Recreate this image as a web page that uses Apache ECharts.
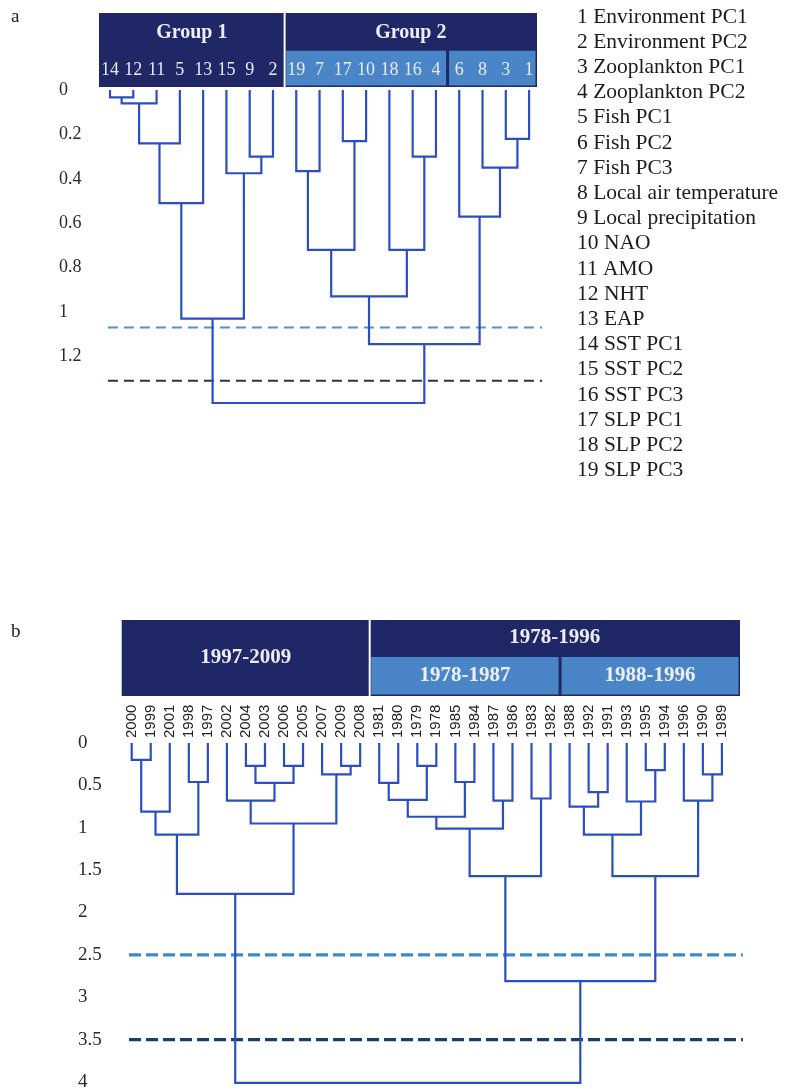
<!DOCTYPE html>
<html><head><meta charset="utf-8">
<script src="https://cdn.jsdelivr.net/npm/echarts@6/dist/echarts.min.js"></script>
<style>html,body{margin:0;padding:0;background:#fff}#c{width:805px;height:1091px}</style>
</head><body><div id="c"></div>
<script>
// ---------------- Panel a data ----------------
const leavesA = ['14','12','11','5','13','15','9','2','19','7','17','10','18','16','4','6','8','3','1'];
// merges: [child, child, height]; 'mK' refers to merge K
const mergesA = [
  ['14','12',0.033], ['m0','11',0.06], ['m1','5',0.24], ['m2','13',0.51],
  ['9','2',0.30], ['15','m4',0.375], ['m3','m5',1.03],
  ['19','7',0.365], ['17','10',0.23], ['m7','m8',0.72],
  ['16','4',0.30], ['18','m10',0.72], ['m9','m11',0.93],
  ['3','1',0.22], ['8','m13',0.35], ['6','m14',0.57],
  ['m12','m15',1.145], ['m6','m16',1.41]
];
const cutoffsA = [1.07, 1.31];
const ticksA = [0, 0.2, 0.4, 0.6, 0.8, 1, 1.2];
const groupsA = [['Group 1', 0, 7], ['Group 2', 8, 18]];
const subGroupsA = [['', 8, 14], ['', 15, 18]];
const variableNames = ['1 Environment PC1','2 Environment PC2','3 Zooplankton PC1','4 Zooplankton PC2',
  '5 Fish PC1','6 Fish PC2','7 Fish PC3','8 Local air temperature','9 Local precipitation','10 NAO',
  '11 AMO','12 NHT','13 EAP','14 SST PC1','15 SST PC2','16 SST PC3','17 SLP PC1','18 SLP PC2','19 SLP PC3'];

// ---------------- Panel b data ----------------
const leavesB = ['2000','1999','2001','1998','1997','2002','2004','2003','2006','2005','2007','2009','2008',
  '1981','1980','1979','1978','1985','1984','1987','1986','1983','1982',
  '1988','1992','1991','1993','1995','1994','1996','1990','1989'];
const mergesB = [
  ['2000','1999',0.2], ['m0','2001',0.81], ['1998','1997',0.46], ['m1','m2',1.08],
  ['2004','2003',0.27], ['2006','2005',0.27], ['m4','m5',0.47], ['2002','m6',0.68],
  ['2009','2008',0.27], ['2007','m8',0.37], ['m7','m9',0.95], ['m3','m10',1.78],
  ['1981','1980',0.47], ['1979','1978',0.27], ['m12','m13',0.67], ['1985','1984',0.46],
  ['m14','m15',0.87], ['1987','1986',0.68], ['m16','m17',1.01], ['1983','1982',0.655],
  ['m18','m19',1.57],
  ['1992','1991',0.58], ['1988','m21',0.75], ['1995','1994',0.32], ['1993','m23',0.69],
  ['m22','m24',1.08], ['1990','1989',0.37], ['1996','m26',0.68], ['m25','m27',1.57],
  ['m20','m28',2.81], ['m11','m29',4.01]
];
const cutoffsB = [2.5, 3.5];
const ticksB = [0, 0.5, 1, 1.5, 2, 2.5, 3, 3.5, 4];
const groupsB = [['1997-2009', 0, 12], ['1978-1996', 13, 31]];
const subGroupsB = [['1978-1987', 13, 22], ['1988-1996', 23, 31]];

// ---------------- helpers ----------------
const SERIF = '"Liberation Serif","Times New Roman",serif';
const SANS = '"Liberation Sans",Arial,sans-serif';
const NAVY = '#1f2766';
const LIGHT = '#4a86c7';
const LINE = '#2b4fc2';

function buildSegments(leaves, merges) {
  const nodes = [];
  const segs = [];
  const resolve = id => {
    if (id[0] === 'm') return nodes[+id.slice(1)];
    return { x: leaves.indexOf(id), h: 0 };
  };
  merges.forEach(([a, b, h]) => {
    const A = resolve(a), B = resolve(b);
    segs.push([A.x, A.h, B.x, B.h, h]);
    nodes.push({ x: (A.x + B.x) / 2, h: h });
  });
  return segs;
}

function dendroSeries(idx, segs) {
  return {
    type: 'custom', xAxisIndex: idx, yAxisIndex: idx, clip: false, z: 3,
    data: segs,
    renderItem: (params, api) => {
      const p1 = api.coord([api.value(0), api.value(1)]);
      const p2 = api.coord([api.value(0), api.value(4)]);
      const p3 = api.coord([api.value(2), api.value(4)]);
      const p4 = api.coord([api.value(2), api.value(3)]);
      return { type: 'polyline', shape: { points: [p1, p2, p3, p4] },
        style: { stroke: LINE, lineWidth: 2.2, fill: null } };
    }
  };
}

function cutoffSeries(idx, cuts, x0, x1, colors, width, dash) {
  return {
    type: 'custom', xAxisIndex: idx, yAxisIndex: idx, clip: false, z: 2,
    data: cuts.map((c, i) => [c, i]),
    renderItem: (params, api) => {
      const a = api.coord([x0, api.value(0)]);
      const b = api.coord([x1, api.value(0)]);
      return { type: 'line', shape: { x1: a[0], y1: a[1], x2: b[0], y2: b[1] },
        style: { stroke: colors[api.value(1)], lineWidth: width, lineDash: dash } };
    }
  };
}

// horizontal extent of a leaf range, snapped to the grid edge at the ends
function span(api, cs, from, to, n) {
  const l = from === 0 ? cs.x : api.coord([from - 0.5, 0])[0];
  const r = to === n - 1 ? cs.x + cs.width : api.coord([to + 0.5, 0])[0];
  return [l, r];
}

// header: cfg offsets relative to the zero line (grid top)
function headerSeries(idx, groups, subs, n, cfg) {
  const outer = {
    type: 'custom', xAxisIndex: idx, yAxisIndex: idx, clip: false, z: 1,
    data: groups.map((g, i) => [g[1], g[2], i]),
    renderItem: (params, api) => {
      const cs = params.coordSys;
      const i = api.value(2);
      const g = groups[i];
      const [l, r] = span(api, cs, g[1], g[2], n);
      const hasSub = subs.some(s => s[1] >= g[1] && s[2] <= g[2]);
      const children = [
        { type: 'rect', shape: { x: l, y: cs.y + cfg.top, width: r - l, height: cfg.bottom - cfg.top },
          style: { fill: NAVY } },
        { type: 'text', z2: 5, style: { text: g[0], x: (l + r) / 2,
            y: cs.y + (hasSub ? cfg.labelYSub : cfg.labelY), align: 'center', verticalAlign: 'middle',
            fill: '#eceef4', font: 'bold ' + cfg.groupFont + 'px ' + SERIF } }
      ];
      if (i > 0) children.push({ type: 'line', z2: 6,
        shape: { x1: l, y1: cs.y + cfg.top, x2: l, y2: cs.y + cfg.bottom },
        style: { stroke: '#ffffff', lineWidth: 2 } });
      return { type: 'group', children };
    }
  };
  const inner = {
    type: 'custom', xAxisIndex: idx, yAxisIndex: idx, clip: false, z: 1.5,
    data: subs.map((s, i) => [s[1], s[2], i]),
    renderItem: (params, api) => {
      const cs = params.coordSys;
      const s = subs[api.value(2)];
      let [l, r] = span(api, cs, s[1], s[2], n);
      l += 1.5; r -= 1.5;
      return { type: 'group', children: [
        { type: 'rect', shape: { x: l, y: cs.y + cfg.subTop, width: r - l, height: cfg.subBottom - cfg.subTop },
          style: { fill: LIGHT } },
        { type: 'text', z2: 5, style: { text: s[0], x: (l + r) / 2, y: cs.y + cfg.subLabelY,
            align: 'center', verticalAlign: 'middle', fill: '#eceef4', font: 'bold ' + cfg.groupFont + 'px ' + SERIF } }
      ] };
    }
  };
  return [outer, inner];
}

function leafLabelSeries(idx, leaves, styleFn) {
  return {
    type: 'custom', xAxisIndex: idx, yAxisIndex: idx, clip: false, z: 4,
    data: leaves.map((l, i) => [i, 0]),
    renderItem: (params, api) => {
      const p = api.coord([api.value(0), 0]);
      return styleFn(leaves[params.dataIndex], p);
    }
  };
}

const segsA = buildSegments(leavesA, mergesA);
const segsB = buildSegments(leavesB, mergesB);

const yLabel = (ticks, margin, size) => ({
  customValues: ticks, align: 'left', margin: margin, color: '#2a2a2a',
  fontFamily: SERIF, fontSize: size,
  formatter: v => (ticks.some(t => Math.abs(t - v) < 1e-6) ? String(Math.round(v * 10) / 10) : '')
});

const option = {
  animation: false,
  backgroundColor: '#ffffff',
  grid: [
    { left: 99, top: 90, width: 438, height: 1.45 * 222, outerBoundsMode: 'none', containLabel: false },
    { left: 121.7, top: 743, width: 618.3, height: 4.08 * 84.75, outerBoundsMode: 'none', containLabel: false }
  ],
  xAxis: [
    { type: 'value', gridIndex: 0, min: -0.4725, max: 18.34, show: false },
    { type: 'value', gridIndex: 1, min: -0.525, max: 31.95, show: false }
  ],
  yAxis: [
    { type: 'value', gridIndex: 0, inverse: true, min: 0, max: 1.45, interval: 0.2,
      axisLine: { show: false }, axisTick: { show: false }, splitLine: { show: false },
      axisLabel: yLabel(ticksA, 40, 18) },
    { type: 'value', gridIndex: 1, inverse: true, min: 0, max: 4.08, interval: 0.5,
      axisLine: { show: false }, axisTick: { show: false }, splitLine: { show: false },
      axisLabel: yLabel(ticksB, 43.7, 19) }
  ],
  graphic: [
    { type: 'text', x: 11, y: 17, style: { text: 'a', font: '19px ' + SERIF, fill: '#222', verticalAlign: 'middle' } },
    { type: 'text', x: 11, y: 632, style: { text: 'b', font: '19px ' + SERIF, fill: '#222', verticalAlign: 'middle' } }
  ].concat(variableNames.map((t, i) => ({
    type: 'text', x: 577, y: 17 + i * 25.2,
    style: { text: t, font: '21.5px ' + SERIF, fill: '#1c1c1c', verticalAlign: 'middle' }
  }))),
  series: [
    ...headerSeries(0, groupsA, subGroupsA, leavesA.length,
      { top: -77, bottom: -3, labelY: -57, labelYSub: -57, subTop: -39.3, subBottom: -4.5, subLabelY: -21, groupFont: 20 }),
    ...headerSeries(1, groupsB, subGroupsB, leavesB.length,
      { top: -123, bottom: -47, labelY: -85, labelYSub: -105, subTop: -86, subBottom: -48.5, subLabelY: -67, groupFont: 21 }),
    leafLabelSeries(0, leavesA, (t, p) => ({ type: 'text', z2: 10,
      style: { text: t, x: p[0], y: p[1] - 20, align: 'center', verticalAlign: 'middle',
        fill: '#e8eaf2', font: '18px ' + SERIF } })),
    leafLabelSeries(1, leavesB, (t, p) => ({ type: 'text', x: p[0], y: p[1] - 5, rotation: Math.PI / 2,
      style: { text: t, x: 0, y: 0, align: 'left', verticalAlign: 'middle',
        fill: '#222222', font: '15px ' + SANS } })),
    dendroSeries(0, segsA),
    dendroSeries(1, segsB),
    cutoffSeries(0, cutoffsA, -0.09, 18.56, ['#5b8dc8', '#1d3656'], 2, [10, 6]),
    cutoffSeries(1, cutoffsB, -0.14, 32.1, ['#3e8ad0', '#1b3d6e'], 3.2, [12, 5])
  ]
};

const chart = echarts.init(document.getElementById('c'), null, { renderer: 'canvas', width: 805, height: 1091 });
chart.setOption(option);
</script>
</body></html>
